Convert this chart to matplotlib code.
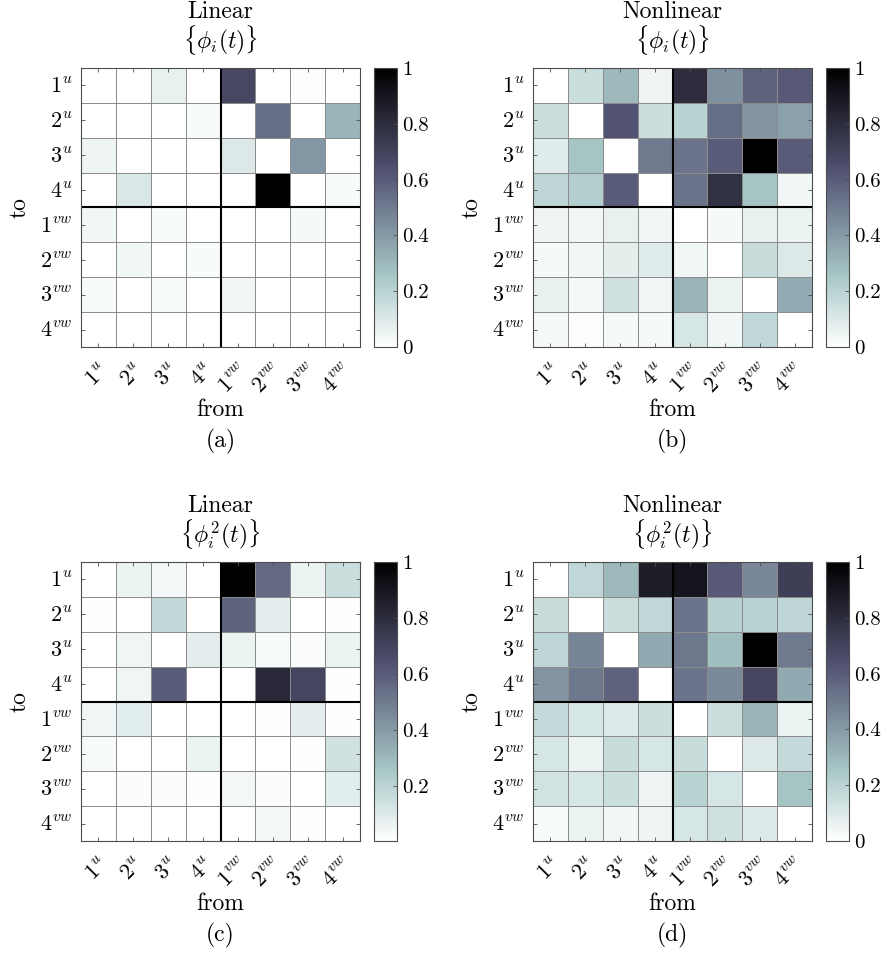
import numpy as np
import matplotlib
matplotlib.use("Agg")
import matplotlib.pyplot as plt

plt.rcParams["font.family"] = "serif"
plt.rcParams["font.serif"] = ["cmr10", "DejaVu Serif"]
plt.rcParams["mathtext.fontset"] = "cm"
plt.rcParams["axes.formatter.use_mathtext"] = True

# labels: "from" on x (columns), "to" on y (rows)
labels = [r"$1^u$", r"$2^u$", r"$3^u$", r"$4^u$",
          r"$1^{vw}$", r"$2^{vw}$", r"$3^{vw}$", r"$4^{vw}$"]

lin_phi = np.array([
    [0.00, 0.00, 0.07, 0.00, 0.68, 0.00, 0.01, 0.00],
    [0.00, 0.00, 0.00, 0.02, 0.00, 0.54, 0.00, 0.31],
    [0.05, 0.00, 0.00, 0.00, 0.10, 0.00, 0.41, 0.00],
    [0.00, 0.11, 0.00, 0.00, 0.00, 1.00, 0.00, 0.02],
    [0.04, 0.00, 0.02, 0.00, 0.00, 0.00, 0.03, 0.00],
    [0.00, 0.04, 0.00, 0.02, 0.00, 0.00, 0.00, 0.00],
    [0.02, 0.00, 0.02, 0.00, 0.04, 0.00, 0.00, 0.00],
    [0.00, 0.00, 0.00, 0.00, 0.00, 0.00, 0.00, 0.00],
])

nonlin_phi = np.array([
    [0.00, 0.15, 0.30, 0.05, 0.80, 0.43, 0.58, 0.61],
    [0.15, 0.00, 0.63, 0.15, 0.20, 0.54, 0.42, 0.38],
    [0.09, 0.26, 0.00, 0.50, 0.52, 0.60, 1.00, 0.60],
    [0.19, 0.22, 0.60, 0.00, 0.52, 0.78, 0.26, 0.04],
    [0.05, 0.04, 0.07, 0.04, 0.00, 0.03, 0.07, 0.06],
    [0.03, 0.04, 0.08, 0.09, 0.04, 0.00, 0.16, 0.10],
    [0.07, 0.03, 0.14, 0.04, 0.31, 0.06, 0.00, 0.34],
    [0.03, 0.01, 0.03, 0.03, 0.12, 0.04, 0.18, 0.00],
])

lin_phi2 = np.array([
    [0.00, 0.06, 0.04, 0.00, 1.00, 0.56, 0.06, 0.16],
    [0.01, 0.00, 0.18, 0.00, 0.58, 0.08, 0.00, 0.01],
    [0.00, 0.05, 0.00, 0.08, 0.06, 0.03, 0.02, 0.06],
    [0.00, 0.05, 0.60, 0.00, 0.00, 0.82, 0.69, 0.01],
    [0.05, 0.09, 0.00, 0.00, 0.00, 0.01, 0.08, 0.01],
    [0.03, 0.00, 0.00, 0.06, 0.00, 0.00, 0.01, 0.14],
    [0.00, 0.02, 0.02, 0.01, 0.04, 0.02, 0.00, 0.09],
    [0.00, 0.00, 0.00, 0.00, 0.00, 0.04, 0.01, 0.00],
])

nonlin_phi2 = np.array([
    [0.00, 0.18, 0.30, 0.87, 0.91, 0.61, 0.46, 0.72],
    [0.16, 0.00, 0.15, 0.18, 0.52, 0.21, 0.20, 0.19],
    [0.19, 0.47, 0.00, 0.35, 0.51, 0.28, 1.00, 0.50],
    [0.42, 0.51, 0.58, 0.00, 0.52, 0.45, 0.69, 0.35],
    [0.17, 0.12, 0.10, 0.15, 0.00, 0.15, 0.31, 0.06],
    [0.12, 0.06, 0.16, 0.12, 0.16, 0.00, 0.10, 0.17],
    [0.13, 0.12, 0.15, 0.05, 0.20, 0.12, 0.00, 0.26],
    [0.02, 0.06, 0.04, 0.05, 0.12, 0.14, 0.10, 0.00],
])

panels = [
    (lin_phi, "Linear", r"$\{\phi_i(t)\}$", "(a)", 0.0),
    (nonlin_phi, "Nonlinear", r"$\{\phi_i(t)\}$", "(b)", 0.0),
    (lin_phi2, "Linear", r"$\{\phi_i^2(t)\}$", "(c)", 0.005),
    (nonlin_phi2, "Nonlinear", r"$\{\phi_i^2(t)\}$", "(d)", 0.0),
]

W, H = 888, 955
fig = plt.figure(figsize=(W / 100, H / 100), dpi=100)

# pixel boxes: (left, top) of each heatmap, size 279
lefts = [81, 533, 81, 533]
tops = [68, 68, 562, 562]
size = 279
fs = 16

for k, (data, name, sub, tag, vmin) in enumerate(panels):
    l, t = lefts[k], tops[k]
    ax = fig.add_axes([l / W, 1 - (t + size) / H, size / W, size / H])
    n = data.shape[0]
    mesh = ax.pcolormesh(np.arange(n + 1), np.arange(n + 1), data,
                         cmap="bone_r", vmin=vmin, vmax=1,
                         edgecolors="0.55", linewidth=0.55)
    ax.set_xlim(0, n)
    ax.set_ylim(n, 0)
    ax.axhline(4, color="k", lw=1.5)
    ax.axvline(4, color="k", lw=1.5)
    ax.set_xticks(np.arange(n) + 0.5)
    ax.set_yticks(np.arange(n) + 0.5)
    ax.set_xticklabels(labels, rotation=45, ha="right", va="top",
                       rotation_mode="anchor", fontsize=fs)
    ax.set_yticklabels(labels, fontsize=fs)
    ax.tick_params(direction="in", length=3, width=0.6, top=True, right=True,
                   color="0.3", pad=6)
    ax.tick_params(axis="x", pad=10)
    for s in ax.spines.values():
        s.set_color("0.3")
        s.set_linewidth(0.8)

    cx = (l + size / 2) / W
    fig.text(cx, 1 - (t - 56) / H, name, ha="center", va="center", fontsize=fs + 1)
    fig.text(cx, 1 - (t - 28) / H, sub, ha="center", va="center", fontsize=fs + 1)
    fig.text(cx, 1 - (t + size + 63) / H, "from", ha="center", va="center", fontsize=fs + 1)
    fig.text(cx, 1 - (t + size + 94) / H, tag, ha="center", va="center", fontsize=fs + 1)
    fig.text((l - 61) / W, 1 - (t + size / 2) / H, "to", ha="center", va="center",
             rotation=90, fontsize=fs + 1)

    cax = fig.add_axes([(l + 293) / W, 1 - (t + size) / H, 23 / W, size / H])
    cb = fig.colorbar(mesh, cax=cax)
    if vmin > 0:
        ticks = [0.2, 0.4, 0.6, 0.8, 1.0]
        tl = ["0.2", "0.4", "0.6", "0.8", "1"]
    else:
        ticks = [0, 0.2, 0.4, 0.6, 0.8, 1.0]
        tl = ["0", "0.2", "0.4", "0.6", "0.8", "1"]
    cb.set_ticks(ticks)
    cb.set_ticklabels(tl)
    cb.ax.tick_params(direction="in", length=3, width=0.6, labelsize=fs - 1, color="0.3")
    cb.outline.set_edgecolor("0.3")
    cb.outline.set_linewidth(0.8)

fig.savefig("out.png", dpi=100)
